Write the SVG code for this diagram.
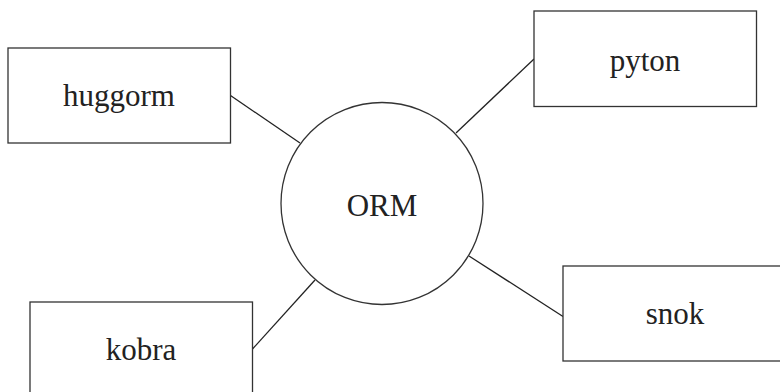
<svg xmlns="http://www.w3.org/2000/svg" width="780" height="392" viewBox="0 0 780 392">
<style>
.box{fill:#fff;stroke:#333;stroke-width:1.3}
.lbl{font-family:"Liberation Serif",serif;font-size:31px;fill:#222;text-anchor:middle}
.con{stroke:#222;stroke-width:1.3;fill:none}
</style>
<rect width="780" height="392" fill="#fff"/>
<g id="connectors">
<line class="con" x1="230.5" y1="95.5" x2="300" y2="143"/>
<line class="con" x1="534" y1="59" x2="456" y2="133"/>
<line class="con" x1="252.5" y1="349" x2="315" y2="280"/>
<line class="con" x1="563" y1="316.5" x2="469" y2="256"/>
</g>
<g id="huggorm"><rect class="box" x="8" y="48" width="222.5" height="95"/><text class="lbl" x="119" y="105.5">huggorm</text></g>
<g id="pyton"><rect class="box" x="534" y="11" width="222.5" height="95.5"/><text class="lbl" x="645" y="70.5">pyton</text></g>
<g id="kobra"><rect class="box" x="30" y="302" width="222.5" height="95"/><text class="lbl" x="141" y="359.5">kobra</text></g>
<g id="snok"><rect class="box" x="563" y="266" width="222.5" height="95"/><text class="lbl" x="675" y="323.5">snok</text></g>
<g id="orm"><circle class="box" cx="382" cy="203.5" r="101"/><text class="lbl" x="382" y="215.5">ORM</text></g>
</svg>
